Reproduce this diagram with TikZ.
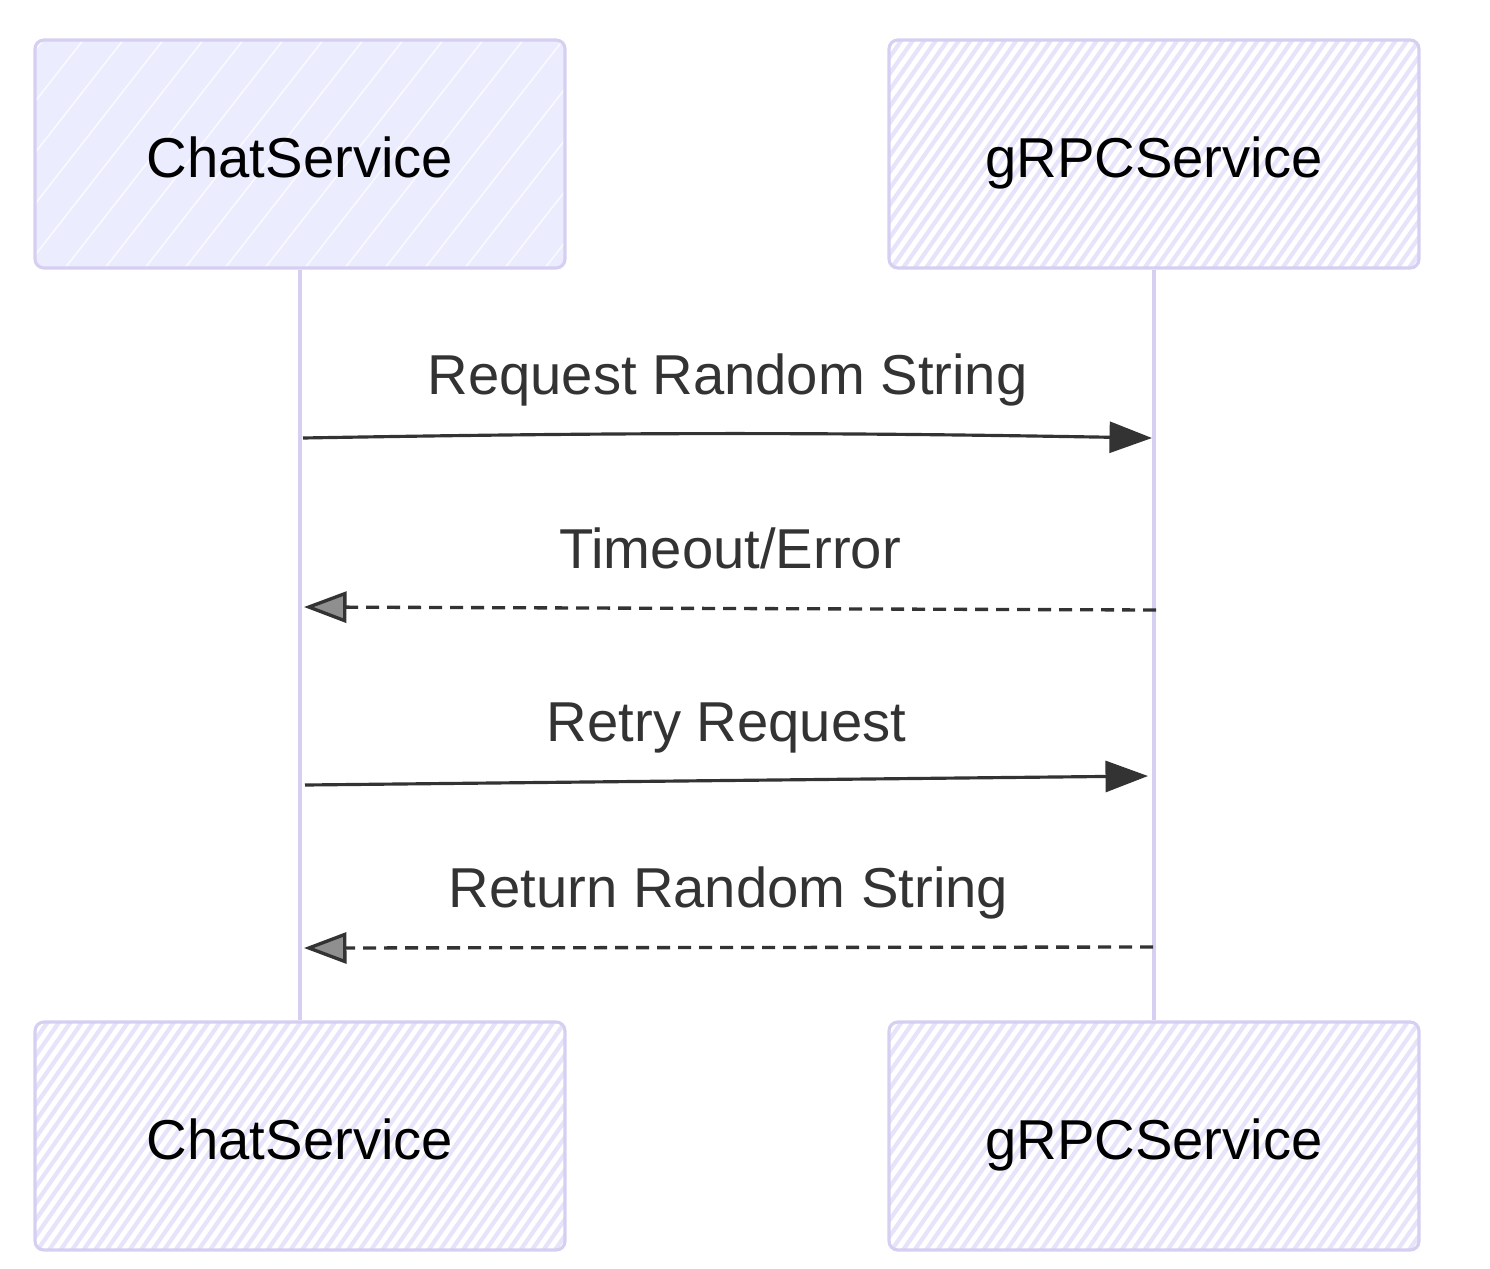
\documentclass[tikz,border=0pt]{standalone}
\usepackage{fontspec}
\setmainfont{Liberation Sans}
\usetikzlibrary{arrows.meta}
\definecolor{lavfill}{HTML}{ECECFF}
\definecolor{lavline}{HTML}{D6CFF1}
\definecolor{lavhatch}{HTML}{E6E3FA}
\definecolor{ink}{HTML}{333333}

\begin{document}
\begin{tikzpicture}[x=0.02cm, y=-0.02cm, font=\fontsize{32}{38}\selectfont,
    actor/.style={draw=lavline, line width=1.8pt, rounded corners=5pt,
      minimum width=10.6cm, minimum height=4.56cm, text=black,
      text height=26.4pt, text depth=0pt},
    softbox/.style={actor, fill=lavfill, path picture={
        \foreach \k in {0,...,18}
          \draw[white, line width=0.8pt, opacity=0.8]
            ([xshift=\k*0.8cm-3.4cm]path picture bounding box.south west) -- ++(52:8cm);}},
    hatchbox/.style={actor, fill=white, path picture={
        \foreach \k in {0,...,62}
          \draw[lavhatch, line width=2.4pt]
            ([xshift=\k*0.23cm-3.4cm]path picture bounding box.south west) -- ++(55:8cm);}},
    lifeline/.style={draw=lavline, line width=2.8pt},
    msg/.style={draw=ink, line width=1.8pt, -{Triangle[length=0.85cm,width=0.62cm]}},
    reply/.style={draw=ink, line width=1.9pt, dash pattern=on 0.26cm off 0.16cm,
      -{Triangle[length=0.85cm,width=0.62cm,fill=ink!55]}},
    msglabel/.style={text=ink, inner sep=0pt, text height=0.72em, text depth=0.22em}]

  \useasboundingbox (0,0) rectangle (1490,1268);

  %% actors
  \node[softbox]  (chattop) at (300,154)  {ChatService};
  \node[hatchbox] (grpctop) at (1154,154) {gRPCService};
  \node[hatchbox] (chatbot) at (300,1136) {ChatService};
  \node[hatchbox] (grpcbot) at (1154,1136) {gRPCService};

  %% lifelines
  \draw[lifeline] (chattop.south) -- (chatbot.north);
  \draw[lifeline] (grpctop.south) -- (grpcbot.north);

  %% message ends
  \coordinate (req0) at (303,438);  \coordinate (req1) at (1152,438);
  \coordinate (tmo0) at (1156,610); \coordinate (tmo1) at (304,607);
  \coordinate (rty0) at (305,785);  \coordinate (rty1) at (1148,776);
  \coordinate (ret0) at (1153,947); \coordinate (ret1) at (304,948);

  %% messages
  \draw[msg] (req0) to[bend left=1]
      node[msglabel, midway, above=0.68cm] (reqtext) {Request Random String} (req1);
  \draw[reply] (tmo0) --
      node[msglabel, midway, above=0.68cm] (tmotext) {Timeout/Error} (tmo1);
  \draw[msg] (rty0) --
      node[msglabel, midway, above=0.68cm] (rtytext) {Retry Request} (rty1);
  \draw[reply] (ret0) --
      node[msglabel, midway, above=0.68cm] (rettext) {Return Random String} (ret1);

\end{tikzpicture}
\end{document}
